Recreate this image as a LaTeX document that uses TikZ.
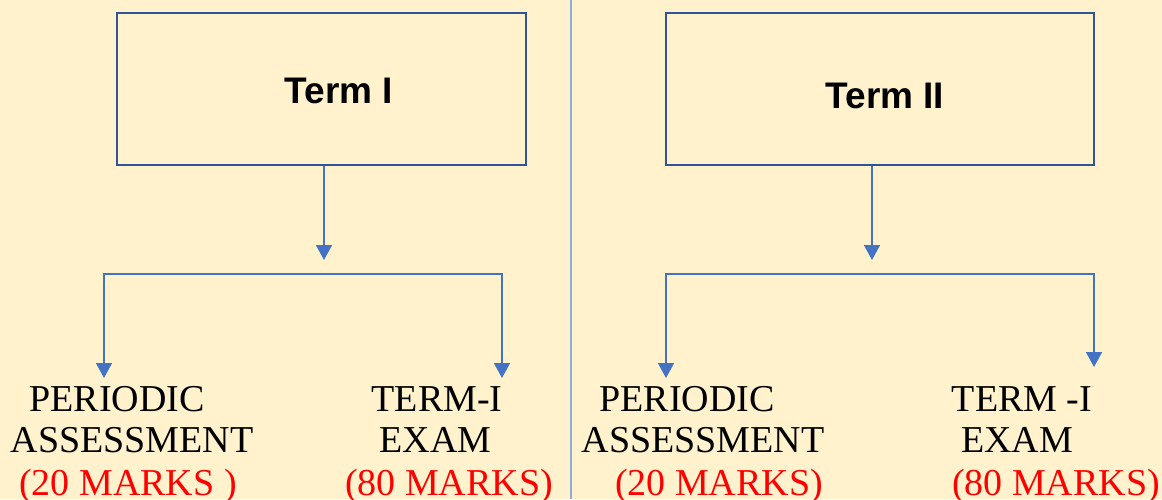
\documentclass[tikz,border=0pt]{standalone}
\usepackage{fontspec}
\setmainfont{Liberation Serif}
\newfontfamily\headfont{Liberation Sans}
\usetikzlibrary{positioning}
\usetikzlibrary{arrows.meta}
\definecolor{paper}{HTML}{FFF2CC}
\definecolor{boxblue}{HTML}{2F5597}
\definecolor{lineblue}{HTML}{4472C4}
\definecolor{ruleblue}{HTML}{8FAADC}
\definecolor{markred}{HTML}{FF0000}
\tikzset{%
    term/.style={rectangle, draw=boxblue, line width=1.25pt, minimum height=76pt},
    title/.style={font=\headfont\bfseries\fontsize{18.5}{22}\selectfont, inner sep=0pt, anchor=base},
    leaf/.style={font=\fontsize{19}{23}\selectfont, inner sep=0pt, anchor=base},
    marks/.style={leaf, text=markred},
    arrow/.style={draw=lineblue, line width=0.75pt, -{Triangle[width=8pt,length=7.5pt]}}
}

\begin{document}
\begin{tikzpicture}[x=0.5pt,y=-0.5pt]
		\fill[paper] (0,0) rectangle (1162,499);
		\useasboundingbox (0,0) rectangle (1162,499);
		\draw[ruleblue, line width=1pt] (571,0) -- (571,499);

		% term boxes
		\node[term, minimum width=204.5pt]	(termone) 	at (321.5,89)	{};
		\node[term, minimum width=214pt]	(termtwo) 	at (880,89)		{};
		\node[title]	(termonetext)	at (339,103)	{Term I};
		\node[title]	(termtwotext)	at (885,108)	{Term II};

		% leaves
		\node[leaf]		(perone)		at (117,411)	{PERIODIC};
		\node[leaf]		(assone)		at (132,452.5)	{ASSESSMENT};
		\node[marks]	(marksone)		at (128,495)	{(20 MARKS )};
		\node[leaf]		(examtitleone)	at (437,411)	{TERM-I};
		\node[leaf]		(examone)		at (435.5,452.5){EXAM};
		\node[marks]	(marksexone)	at (449,495)	{(80 MARKS)};
		\node[leaf]		(pertwo)		at (687,411)	{PERIODIC};
		\node[leaf]		(asstwo)		at (703,452.5)	{ASSESSMENT};
		\node[marks]	(markstwo)		at (719,495)	{(20 MARKS)};
		\node[leaf]		(examtitletwo)	at (1022,411)	{TERM -I};
		\node[leaf]		(examtwo)		at (1017,452.5)	{EXAM};
		\node[marks]	(marksextwo)	at (1056,495)	{(80 MARKS)};

		% branch points
		\coordinate (joinone)	at (324,260);
		\coordinate (barone)	at (324,274);
		\coordinate (leftone)	at (104,378);
		\coordinate (rightone)	at (502,378);
		\coordinate (jointwo)	at (872,260);
		\coordinate (bartwo)	at (872,274);
		\coordinate (lefttwo)	at (666,378);
		\coordinate (righttwo)	at (1094,367);

		\draw[arrow] (termone.south -| joinone) -- (joinone);
		\draw[arrow] (barone) -| (leftone);
		\draw[arrow] (barone) -| (rightone);
		\draw[arrow] (termtwo.south -| jointwo) -- (jointwo);
		\draw[arrow] (bartwo) -| (lefttwo);
		\draw[arrow] (bartwo) -| (righttwo);
\end{tikzpicture}
\end{document}
